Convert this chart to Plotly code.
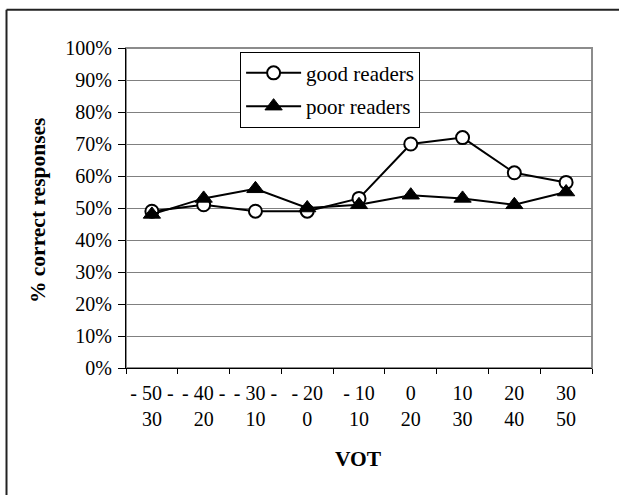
import plotly.graph_objects as go

# VOT continuum steps (two-line tick labels)
vot_labels = [
    "- 50 -<br>30", "- 40 -<br>20", "- 30 -<br>10", "- 20<br>0", "- 10<br>10",
    "0<br>20", "10<br>30", "20<br>40", "30<br>50",
]
good_readers = [0.49, 0.51, 0.49, 0.49, 0.53, 0.70, 0.72, 0.61, 0.58]
poor_readers = [0.48, 0.53, 0.56, 0.50, 0.51, 0.54, 0.53, 0.51, 0.55]

W, H = 619, 495
L, R, T, B = 125.7, 592.5, 48.3, 368.5  # plot area in pixels
FONT = "Liberation Serif"


def px(x):
    return (x - L) / (R - L)


def py(y):
    return 1 - (y - T) / (B - T)


fig = go.Figure()
fig.add_trace(go.Scatter(
    x=vot_labels, y=good_readers, name="good readers", mode="lines+markers",
    line=dict(color="black", width=2),
    marker=dict(symbol="circle", size=13, color="white", line=dict(color="black", width=2)),
    legendgroup="g",
))
fig.add_trace(go.Scatter(
    x=vot_labels, y=poor_readers, name="poor readers", mode="lines+markers",
    line=dict(color="black", width=2),
    marker=dict(symbol="triangle-up", size=15, color="black", line=dict(color="black", width=1)),
    legendgroup="p",
))

fig.update_layout(
    width=W, height=H,
    margin=dict(l=L, r=W - R, t=T, b=H - B, pad=0, autoexpand=False),
    paper_bgcolor="white", plot_bgcolor="white",
    font=dict(family=FONT, size=20, color="black"),
    showlegend=True,
    legend=dict(
        x=px(240), y=py(52), xanchor="left", yanchor="top",
        bgcolor="white", bordercolor="black", borderwidth=1,
        font=dict(family=FONT, size=21, color="black"),
        tracegroupgap=3, itemwidth=55,
    ),
    xaxis=dict(
        type="category", range=[-0.5, len(vot_labels) - 0.5],
        tickson="boundaries", tickangle=0, automargin=False,
        showline=True, linecolor="black", linewidth=1,
        ticks="outside", ticklen=5, tickcolor="black", tickwidth=1,
        ticklabelstandoff=7,
        showgrid=False, zeroline=False,
        tickfont=dict(family=FONT, size=20, color="black"),
        fixedrange=True,
    ),
    yaxis=dict(
        range=[0, 1], dtick=0.1, tickformat=".0%", automargin=False,
        showline=True, linecolor="black", linewidth=1,
        ticks="outside", ticklen=7, tickcolor="black", tickwidth=1,
        showgrid=True, gridcolor="#808080", gridwidth=1, zeroline=False,
        tickfont=dict(family=FONT, size=20, color="black"),
        ticklabelstandoff=2,
        fixedrange=True,
    ),
    shapes=[
        # grey plot-area frame
        dict(type="rect", xref="paper", yref="paper", x0=0, x1=1, y0=0, y1=1,
             line=dict(color="#8c8c8c", width=2), layer="below"),
        # outer chart frame (left and top edges)
        dict(type="line", xref="paper", yref="paper",
             x0=px(6), x1=px(6), y0=py(10), y1=py(H + 5),
             line=dict(color="#222222", width=2), layer="below"),
        dict(type="line", xref="paper", yref="paper",
             x0=px(6), x1=px(W + 5), y0=py(10), y1=py(10),
             line=dict(color="#222222", width=2), layer="below"),
    ],
    annotations=[
        dict(text="<b>% correct responses</b>", xref="paper", yref="paper",
             x=px(37), y=py(210), textangle=-90, showarrow=False,
             xanchor="center", yanchor="middle",
             font=dict(family=FONT, size=21.5, color="black")),
        dict(text="<b>VOT</b>", xref="paper", yref="paper",
             x=px(359), y=py(459.5), showarrow=False,
             xanchor="center", yanchor="middle",
             font=dict(family=FONT, size=21.5, color="black")),
    ],
)

fig.write_html("out.html")
